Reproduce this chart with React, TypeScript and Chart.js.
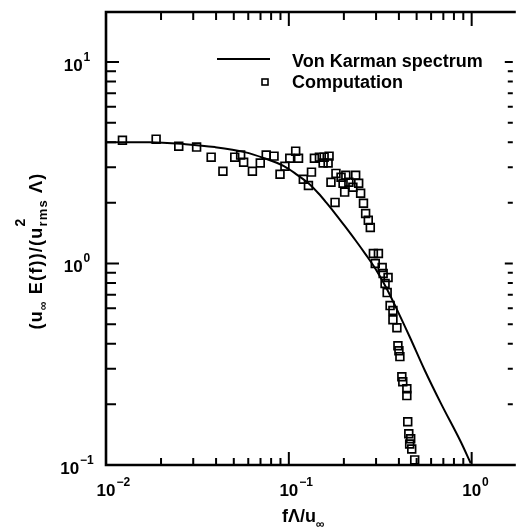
import React, { useEffect, useRef } from 'react';
import { Chart, registerables } from 'chart.js';

Chart.register(...registerables);

// Von Karman spectrum (solid line)
const spectrumX = [0.01, 0.01725, 0.0272, 0.0395, 0.0573, 0.0734, 0.094, 0.11, 0.128, 0.145, 0.16, 0.181, 0.205, 0.232, 0.263, 0.297, 0.336, 0.381, 0.458, 0.552, 0.681, 0.873, 0.988];
const spectrumY = [4.0, 4.0, 3.91, 3.78, 3.57, 3.33, 3.04, 2.77, 2.5, 2.23, 2.01, 1.75, 1.51, 1.3, 1.11, 0.944, 0.777, 0.618, 0.433, 0.297, 0.201, 0.13, 0.102];

// Computation (open squares)
const computationX = [
  0.0123, 0.0188, 0.025, 0.0313, 0.0376, 0.0436, 0.0506, 0.0566, 0.0545, 0.0632,
  0.0698, 0.0752, 0.083, 0.0895, 0.0952, 0.1012, 0.109, 0.113, 0.12, 0.128,
  0.133, 0.138, 0.147, 0.156, 0.166, 0.154, 0.164, 0.181, 0.17, 0.193,
  0.205, 0.232, 0.198, 0.213, 0.224, 0.241, 0.202, 0.247, 0.179, 0.256,
  0.263, 0.272, 0.279, 0.29, 0.309, 0.297, 0.324, 0.328, 0.349, 0.336,
  0.345, 0.358, 0.371, 0.371, 0.39, 0.395, 0.4, 0.405, 0.415, 0.42,
  0.442, 0.442, 0.447, 0.453, 0.464, 0.458, 0.47, 0.488,
];
const computationY = [
  4.09, 4.14, 3.82, 3.78, 3.37, 2.87, 3.37, 3.18, 3.45, 2.87,
  3.15, 3.45, 3.41, 2.77, 3.04, 3.33, 3.61, 3.33, 2.62, 2.44,
  2.84, 3.33, 3.37, 3.37, 3.41, 3.15, 3.15, 2.8, 2.53, 2.68,
  2.74, 2.74, 2.5, 2.53, 2.39, 2.5, 2.26, 2.23, 2.01, 1.99,
  1.77, 1.64, 1.51, 1.12, 1.12, 1.0, 0.955, 0.892, 0.852, 0.795,
  0.717, 0.618, 0.584, 0.526, 0.48, 0.391, 0.369, 0.345, 0.274, 0.259,
  0.239, 0.221, 0.164, 0.143, 0.135, 0.127, 0.12, 0.106,
];

const xDecades = [0.01, 0.1, 1];
const xExponents = ['\u22122', '\u22121', '0'];
const yDecades = [0.1, 1, 10];
const yExponents = ['\u22121', '0', '1'];
const legendLabels = ['Von Karman spectrum', 'Computation'];
const xMin = 0.01;
const xMax = 1.7;
const yMin = 0.1;
const yMax = 17.7;

const FONT = '"Liberation Sans", Arial, Helvetica, sans-serif';

type Seg = { t?: string; size?: number; dy?: number; stack?: { t: string; size: number; dy: number }[] };

function logTicks(min: number, max: number) {
  const out: { v: number; major: boolean }[] = [];
  for (let e = Math.floor(Math.log10(min)); e <= Math.ceil(Math.log10(max)); e++) {
    for (let m = 1; m <= 9; m++) {
      const v = m * Math.pow(10, e);
      if (v >= min * 0.9999 && v <= max * 1.0001) out.push({ v, major: m === 1 });
    }
  }
  return out;
}

function segWidth(ctx: CanvasRenderingContext2D, segs: Seg[], sp: number) {
  let w = 0;
  for (const s of segs) {
    if (s.stack) {
      let m = 0;
      for (const k of s.stack) {
        ctx.font = `bold ${k.size}px ${FONT}`;
        let ww = 0;
        for (const ch of k.t) ww += ctx.measureText(ch).width + sp;
        m = Math.max(m, ww);
      }
      w += m;
    } else {
      ctx.font = `bold ${s.size}px ${FONT}`;
      for (const ch of s.t!) w += ctx.measureText(ch).width + sp;
    }
  }
  return w;
}

function drawSegs(ctx: CanvasRenderingContext2D, segs: Seg[], x0: number, y0: number, sp: number) {
  let x = x0;
  ctx.textAlign = 'left';
  ctx.textBaseline = 'alphabetic';
  for (const s of segs) {
    if (s.stack) {
      let m = 0;
      for (const k of s.stack) {
        ctx.font = `bold ${k.size}px ${FONT}`;
        let xx = x;
        for (const ch of k.t) {
          ctx.fillText(ch, xx, y0 + k.dy);
          xx += ctx.measureText(ch).width + sp;
        }
        m = Math.max(m, xx - x);
      }
      x += m;
    } else {
      ctx.font = `bold ${s.size}px ${FONT}`;
      for (const ch of s.t!) {
        ctx.fillText(ch, x, y0 + (s.dy || 0));
        x += ctx.measureText(ch).width + sp;
      }
    }
  }
}

const decor = {
  id: 'decor',
  afterDraw(chart: any) {
    const ctx: CanvasRenderingContext2D = chart.ctx;
    const xs = chart.scales.x;
    const ys = chart.scales.y;
    const { left, right, top, bottom } = chart.chartArea;
    ctx.save();
    ctx.strokeStyle = '#000';
    ctx.fillStyle = '#000';

    // frame (right border lies at the picture edge)
    ctx.lineWidth = 2.6;
    ctx.beginPath();
    ctx.moveTo(right + 2, top);
    ctx.lineTo(left, top);
    ctx.lineTo(left, bottom);
    ctx.lineTo(right + 2, bottom);
    ctx.stroke();

    // inward ticks
    ctx.lineWidth = 2;
    for (const t of logTicks(xMin, xMax)) {
      const px = xs.getPixelForValue(t.v);
      ctx.beginPath();
      ctx.moveTo(px, bottom);
      ctx.lineTo(px, bottom - (t.major ? 13 : 7));
      ctx.moveTo(px, top);
      ctx.lineTo(px, top + (t.major ? 14 : 8));
      ctx.stroke();
    }
    for (const t of logTicks(yMin, yMax)) {
      const py = ys.getPixelForValue(t.v);
      ctx.beginPath();
      ctx.moveTo(left, py);
      ctx.lineTo(left + (t.major ? 13 : 10), py);
      ctx.moveTo(right - 1, py);
      ctx.lineTo(right - (t.major ? 9 : 6), py);
      ctx.stroke();
    }

    // x tick labels
    xDecades.forEach((v, i) => {
      const px = xs.getPixelForValue(v);
      ctx.font = `bold 17px ${FONT}`;
      ctx.textAlign = 'center';
      ctx.textBaseline = 'alphabetic';
      const w = ctx.measureText('10').width;
      ctx.fillText('10', px, 496);
      ctx.font = `bold 12px ${FONT}`;
      ctx.textAlign = 'left';
      ctx.fillText(xExponents[i], px + w / 2 + 1, 486);
    });

    // y tick labels
    yDecades.forEach((v, i) => {
      const py = ys.getPixelForValue(v);
      ctx.font = `bold 17px ${FONT}`;
      const w10 = ctx.measureText('10').width;
      ctx.font = `bold 12px ${FONT}`;
      const we = ctx.measureText(yExponents[i]).width;
      const x0 = 77 - (w10 + 1 + we) / 2;
      ctx.textAlign = 'left';
      ctx.textBaseline = 'alphabetic';
      ctx.font = `bold 17px ${FONT}`;
      ctx.fillText('10', x0, py + 9);
      ctx.font = `bold 12px ${FONT}`;
      ctx.fillText(yExponents[i], x0 + w10 + 1, py - 1);
    });

    // x axis title
    drawSegs(ctx, [
      { t: 'f\u039b/u', size: 18, dy: 0 },
      { t: '\u221e', size: 12, dy: 6 },
    ], 282, 522, 0);

    // y axis title (rotated)
    const ySegs: Seg[] = [
      { t: '(u', size: 18, dy: 0 },
      { t: '\u221e', size: 12, dy: 5 },
      { t: ' E(f))/(u', size: 18, dy: 0 },
      { stack: [{ t: '2', size: 14, dy: -17 }, { t: 'rms', size: 13, dy: 5 }] },
      { t: ' \u039b)', size: 18, dy: 0 },
    ];
    const sp = 1.2;
    const tw = segWidth(ctx, ySegs, sp);
    ctx.save();
    ctx.translate(0, 251);
    ctx.rotate(-Math.PI / 2);
    drawSegs(ctx, ySegs, -tw / 2, 42, sp);
    ctx.restore();

    // legend
    ctx.lineWidth = 2;
    ctx.beginPath();
    ctx.moveTo(217, 59);
    ctx.lineTo(270, 59);
    ctx.stroke();
    ctx.lineWidth = 1.6;
    ctx.strokeRect(262, 79, 6, 6);
    ctx.font = `bold 18px ${FONT}`;
    ctx.textAlign = 'left';
    ctx.textBaseline = 'alphabetic';
    ctx.fillText(legendLabels[0], 292, 67);
    ctx.fillText(legendLabels[1], 292, 88);

    ctx.restore();
  },
};

export default function App() {
  const ref = useRef<HTMLCanvasElement>(null);
  useEffect(() => {
    const canvas = ref.current!;
    const chart = new Chart(canvas, {
      type: 'scatter',
      data: {
        datasets: [
          {
            label: legendLabels[0],
            data: spectrumX.map((x, i) => ({ x, y: spectrumY[i] })),
            showLine: true,
            borderColor: '#000',
            borderWidth: 2,
            pointRadius: 0,
            cubicInterpolationMode: 'monotone',
            fill: false,
          },
          {
            label: legendLabels[1],
            data: computationX.map((x, i) => ({ x, y: computationY[i] })),
            showLine: false,
            pointStyle: 'rect',
            pointRadius: 5.5,
            borderColor: '#000',
            backgroundColor: 'rgba(0,0,0,0)',
            borderWidth: 1.7,
          },
        ],
      },
      options: {
        responsive: false,
        animation: false,
        devicePixelRatio: 1,
        events: [],
        layout: { padding: { left: 106, top: 12, right: 0, bottom: 64 } },
        scales: {
          x: { type: 'logarithmic', min: xMin, max: xMax, display: false },
          y: { type: 'logarithmic', min: yMin, max: yMax, display: false },
        },
        plugins: { legend: { display: false }, tooltip: { enabled: false } },
      },
      plugins: [decor],
    } as any);
    return () => chart.destroy();
  }, []);
  return (
    <div style={{ position: 'absolute', left: 0, top: 0, width: 521, height: 529, background: '#fff' }}>
      <canvas ref={ref} width={521} height={529} style={{ display: 'block' }} />
    </div>
  );
}
